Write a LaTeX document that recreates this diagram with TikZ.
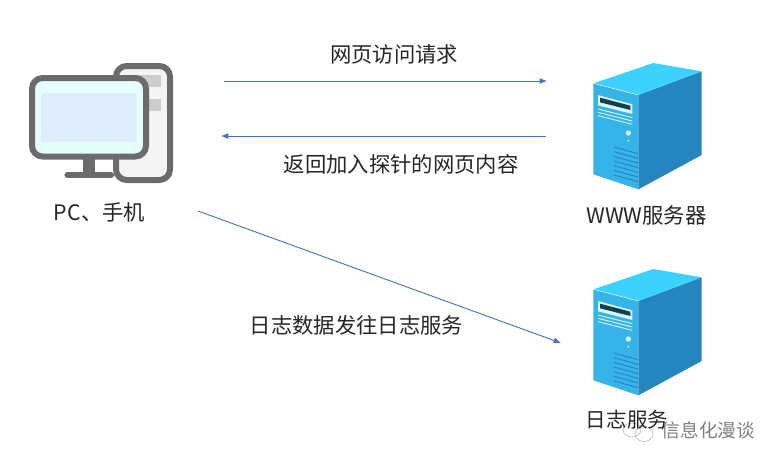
\documentclass[tikz,border=0pt]{standalone}
\usepackage{fontspec}
\setmainfont{Noto Sans CJK SC}
\usetikzlibrary{arrows.meta}
\definecolor{edgegray}{HTML}{6B6B6B}
\definecolor{towerfill}{HTML}{F4F4F4}
\definecolor{slotgray}{HTML}{CCCCCC}
\definecolor{screenout}{HTML}{E5FFFA}
\definecolor{screenin}{HTML}{E0EDFF}
\definecolor{srvtop}{HTML}{3DD1FF}
\definecolor{srvfront}{HTML}{36B4EA}
\definecolor{srvside}{HTML}{2585BE}
\definecolor{srvdark}{HTML}{123F4C}
\definecolor{srvpale}{HTML}{D8F4FF}
\definecolor{flowblue}{HTML}{4472C4}
\tikzset{
  flow/.style={draw=flowblue,line width=.7pt,-{Latex[length=5.5pt,width=4.5pt]}},
  lbl/.style={inner sep=0pt,font=\fontsize{16pt}{18pt}\selectfont,text=black!85},
  lblsmall/.style={inner sep=0pt,font=\fontsize{16pt}{18pt}\selectfont,text=black!85},
  lbllog/.style={inner sep=0pt,font=\fontsize{15.4pt}{18pt}\selectfont,text=black!85},
  wm/.style={inner sep=0pt,font=\fontsize{14pt}{16pt}\selectfont,text=black!50},
  srvline/.style={draw=srvpale,line width=.7pt},
  vent/.style={draw=srvside,line width=.7pt},
  pcline/.style={draw=edgegray,line width=4.5pt,rounded corners=8pt}
}
\newcommand{\serverdraw}[1]{%
  \begin{scope}[shift={(570,#1)},x=.25pt,y=-.25pt]
    \fill[srvfront] (70,100)--(205,135)--(205,418)--(70,373)--cycle;
    \fill[srvside] (205,135)--(395,64)--(395,315)--(205,418)--cycle;
    \fill[srvtop] (70,100)--(250,39)--(395,64)--(205,135)--cycle;
    \draw[srvpale,line width=.4pt] (70,100)--(205,135);
    \fill[srvpale] (84,135)--(187,163)--(187,192)--(84,166)--cycle;
    \fill[srvdark] (90,143)--(181,167)--(181,180)--(90,157)--cycle;
    \draw[srvline] (84,177)--(187,203);
    \draw[srvline] (84,187)--(187,213);
    \draw[srvline] (84,197)--(187,223);
    \fill[srvpale] (175,249) circle[radius=8];
    \fill[srvpale] (175,272) circle[radius=3];
    \foreach \k in {0,...,6}{
      \draw[vent] (132,291+14*\k)--(204,311+14*\k);
    }
  \end{scope}}
\begin{document}
\begin{tikzpicture}[x=.75pt,y=-.75pt]
\useasboundingbox (0,0) rectangle (780,464);
% PC icon
\draw[pcline,fill=towerfill] (116,66) rectangle (170,180);
\fill[slotgray] (125,75) rectangle (161,86.7);
\fill[slotgray] (125,99) rectangle (161,111);
\fill[edgegray] (83.3,158) rectangle (95,173);
\draw[edgegray,line width=4.7pt,line cap=round] (67.5,175) -- (111,175);
\draw[pcline,fill=screenout] (32,78) rectangle (146,156.5);
\fill[screenin] (41,92.7) rectangle (137,141.7);
% servers
\serverdraw{50}
\serverdraw{256}
% watermark
\draw[black!30,line width=.4pt] (632,430) ellipse[x radius=9,y radius=7];
\draw[black!30,line width=.4pt] (644,434) ellipse[x radius=9,y radius=7.5];
\node[wm] (mark) at (708.5,430) {信息化漫谈};
% labels
\node[lbl] (req) at (394,54) {网页访问请求};
\node[lbl] (ret) at (401,164) {返回加入探针的网页内容};
\node[lbl] (log) at (356.5,325) {日志数据发往日志服务};
\node[lblsmall] (pc) at (99.5,212) {PC、手机};
\node[lblsmall] (www) at (646.5,215) {WWW服务器};
\node[lbllog] (logsrv) at (627,420) {日志服务};
% connectors
\coordinate (a1) at (224,81); \coordinate (a2) at (547,81);
\coordinate (b1) at (546,136); \coordinate (b2) at (221,136);
\coordinate (c1) at (198,211); \coordinate (c2) at (561,343);
\draw[flow] (a1) -- (a2);
\draw[flow] (b1) -- (b2);
\draw[flow] (c1) -- (c2);
\end{tikzpicture}
\end{document}
